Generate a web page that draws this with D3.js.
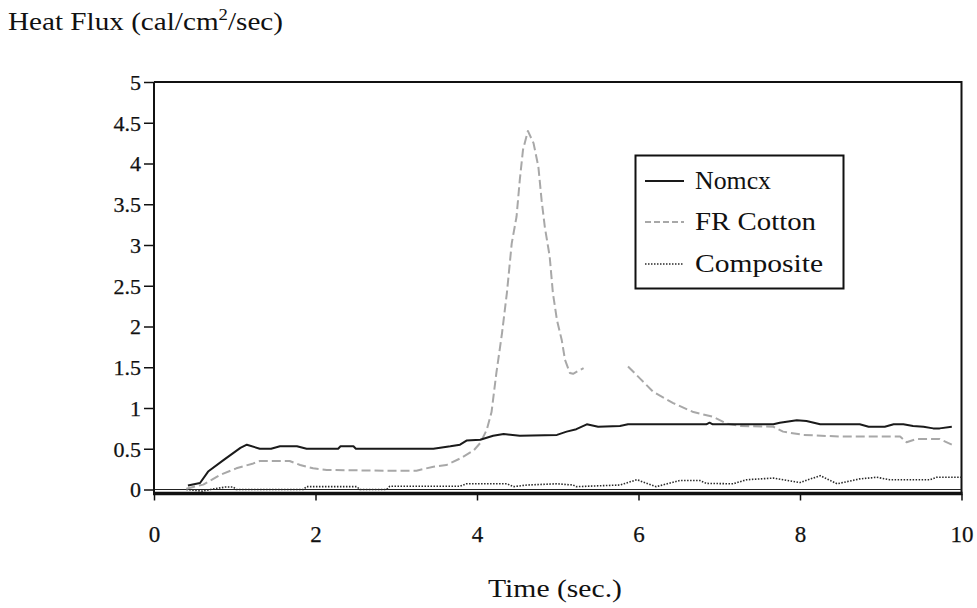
<!DOCTYPE html>
<html><head><meta charset="utf-8">
<script src="https://cdn.jsdelivr.net/npm/d3@7"></script>
<style>
body{margin:0;background:#fff;}
svg text{font-family:"Liberation Serif","Times New Roman",Times,"Tinos","DejaVu Serif","Noto Serif",serif !important;fill:#111;}
</style></head>
<body><svg id="chart" width="977" height="608"></svg>
<script>
const seriesNames = ["Nomcx", "FR Cotton", "Composite"];
const xTicks = [0, 2, 4, 6, 8, 10];
const yTicks = [0, 0.5, 1, 1.5, 2, 2.5, 3, 3.5, 4, 4.5, 5];

const nomexT = [0.42,0.57,0.67,0.86,1.07,1.15,1.31,1.45,1.56,1.77,1.89,2.28,2.31,2.47,2.5,3.46,3.67,3.79,3.87,4.04,4.2,4.33,4.53,4.99,5.11,5.23,5.36,5.5,5.77,5.87,6.84,6.88,6.92,7.67,7.75,7.96,8.08,8.25,8.74,8.85,9.05,9.16,9.28,9.4,9.53,9.65,9.73,9.88];
const nomexV = [0.05,0.08,0.22,0.36,0.51,0.55,0.5,0.5,0.53,0.53,0.5,0.5,0.53,0.53,0.5,0.5,0.53,0.55,0.6,0.61,0.66,0.68,0.66,0.67,0.71,0.74,0.8,0.77,0.78,0.8,0.8,0.82,0.8,0.8,0.82,0.85,0.84,0.8,0.8,0.77,0.77,0.8,0.8,0.78,0.77,0.75,0.75,0.77];

const cottonT = [0.4,0.61,0.82,1.02,1.23,1.31,1.68,1.81,1.97,2.14,2.92,3.25,3.46,3.62,3.79,3.96,4.04,4.12,4.18,4.24,4.31,4.37,4.43,4.49,4.53,4.57,4.63,4.70,4.76,4.80,4.84,4.90,4.94,4.99,5.05,5.09,5.15,5.19,5.32,5.6,5.87,6.02,6.18,6.43,6.68,6.93,7.09,7.26,7.67,7.79,8.04,8.5,9.24,9.32,9.44,9.73,9.88];
const cottonV = [0.01,0.06,0.18,0.26,0.32,0.35,0.35,0.3,0.26,0.24,0.23,0.23,0.28,0.3,0.38,0.48,0.57,0.73,0.95,1.43,1.92,2.41,3.02,3.35,3.8,4.17,4.4,4.25,3.96,3.55,3.22,2.86,2.41,2.08,1.83,1.59,1.43,1.42,1.49,null,1.51,1.36,1.2,1.06,0.95,0.89,0.81,0.78,0.77,0.71,0.67,0.65,0.65,0.58,0.62,0.62,0.55];

const compT = [0.4,0.6,0.7,0.88,0.98,1.02,1.85,1.89,2.51,2.55,2.88,2.92,3.79,3.87,4.37,4.45,4.62,4.99,5.19,5.23,5.77,5.98,6.22,6.51,6.76,6.84,7.17,7.34,7.67,8.0,8.25,8.46,8.74,8.95,9.11,9.61,9.69,10];
const compV = [0,-0.02,0,0.03,0.03,0,0,0.035,0.035,0,0,0.04,0.04,0.07,0.07,0.035,0.055,0.07,0.055,0.035,0.055,0.12,0.035,0.11,0.11,0.075,0.07,0.12,0.14,0.085,0.17,0.07,0.13,0.15,0.12,0.12,0.15,0.15];

const FONT = '"Liberation Serif","Times New Roman",Times,Tinos,"DejaVu Serif",serif';
const svg = d3.select("#chart");
const x = d3.scaleLinear().domain([0, 10]).range([154, 961.5]);
const y = d3.scaleLinear().domain([0, 5]).range([489.5, 82]);
const yBottom = 493.5;

svg.append("path").attr("d", `M${x(0)},${y(5)}H${x(10)}V${yBottom}`)
  .attr("fill", "none").attr("stroke", "#111").attr("stroke-width", 2);

svg.append("line").attr("x1", x(0)).attr("x2", x(10)).attr("y1", y(0)).attr("y2", y(0))
  .attr("stroke", "#222").attr("stroke-width", 1);

const yAxis = d3.axisLeft(y).tickValues(yTicks).tickSize(10).tickPadding(3)
  .tickFormat(d => String(d));
const gy = svg.append("g").attr("transform", `translate(${x(0)},0)`).call(yAxis)
  .attr("font-family", FONT);
gy.select(".domain").remove();
gy.append("line").attr("x1", 0).attr("x2", 0).attr("y1", y(5)).attr("y2", yBottom + 1)
  .attr("stroke", "#111").attr("stroke-width", 2);
gy.selectAll(".tick line").attr("stroke", "#111").attr("stroke-width", 1.5);
gy.selectAll(".tick text").attr("font-size", 22).attr("fill", "#111").attr("dy", "0.34em")
  .attr("stroke", "#111").attr("stroke-width", 0.25);

const xAxis = d3.axisBottom(x).tickValues(xTicks).tickSize(7).tickPadding(25)
  .tickFormat(d => String(d));
const gx = svg.append("g").attr("transform", `translate(0,${yBottom})`).call(xAxis)
  .attr("font-family", FONT);
gx.select(".domain").remove();
gx.append("line").attr("x1", x(0) - 1).attr("x2", x(10) + 1).attr("y1", 0).attr("y2", 0)
  .attr("stroke", "#111").attr("stroke-width", 3.5);
gx.selectAll(".tick line").attr("stroke", "#111").attr("stroke-width", 1.5);
gx.selectAll(".tick text").attr("font-size", 23).attr("fill", "#111")
  .attr("stroke", "#111").attr("stroke-width", 0.25);

const styles = [
  {stroke: "#1a1a1a", width: 2, dash: null},
  {stroke: "#a8a8a8", width: 2, dash: "9,4"},
  {stroke: "#2a2a2a", width: 1.6, dash: "1.5,1.5"}
];
const data = [
  nomexT.map((t, i) => [t, nomexV[i]]),
  cottonT.map((t, i) => [t, cottonV[i]]),
  compT.map((t, i) => [t, compV[i]])
];
const line = d3.line().defined(d => d[1] !== null).x(d => x(d[0])).y(d => y(d[1]));
[2, 1, 0].forEach(i => {
  svg.append("path").datum(data[i]).attr("d", line)
    .attr("fill", "none").attr("stroke", styles[i].stroke)
    .attr("stroke-width", styles[i].width)
    .attr("stroke-dasharray", styles[i].dash)
    .attr("stroke-linejoin", "round");
});

const lg = svg.append("g");
lg.append("rect").attr("x", 635.5).attr("y", 155.5).attr("width", 208).attr("height", 133)
  .attr("fill", "#fff").attr("stroke", "#111").attr("stroke-width", 2);
const legY = [181, 222, 264];
const legDash = [null, "6,3", "1.5,1.5"];
const legW = [76, 121, 128];
seriesNames.forEach((n, i) => {
  lg.append("line").attr("x1", 645).attr("x2", 684).attr("y1", legY[i]).attr("y2", legY[i])
    .attr("stroke", styles[i].stroke).attr("stroke-width", styles[i].width)
    .attr("stroke-dasharray", legDash[i]);
  lg.append("text").attr("x", 695).attr("y", legY[i] + 8).attr("font-size", 26)
    .attr("font-family", FONT).attr("textLength", legW[i])
    .attr("lengthAdjust", "spacingAndGlyphs").text(n);
});

const t = svg.append("text").attr("x", 8).attr("y", 30).attr("font-size", 25)
  .attr("font-family", FONT).attr("textLength", 275).attr("lengthAdjust", "spacingAndGlyphs");
t.append("tspan").text("Heat Flux (cal/cm");
t.append("tspan").attr("font-size", 16).attr("dy", -10).text("2");
t.append("tspan").attr("dy", 10).text("/sec)");

svg.append("text").attr("x", 555).attr("y", 597).attr("text-anchor", "middle")
  .attr("font-size", 26).attr("font-family", FONT)
  .attr("textLength", 134).attr("lengthAdjust", "spacingAndGlyphs").text("Time (sec.)");
</script>
</body></html>
